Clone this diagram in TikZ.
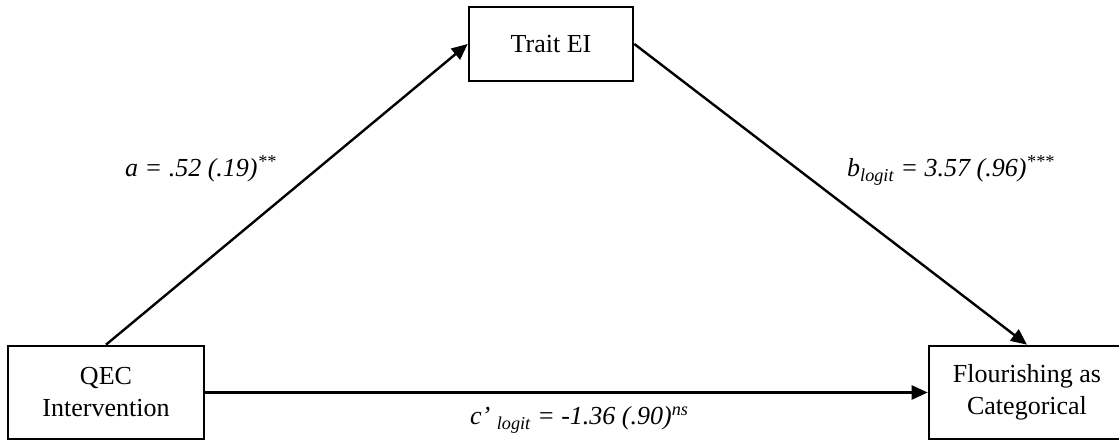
\documentclass[tikz,border=0pt]{standalone}
\usepackage{fontspec}
\setmainfont{Liberation Serif}
\usetikzlibrary{arrows.meta}
\begin{document}
\begin{tikzpicture}[x=1pt,y=1pt,
  box/.style={draw=black,line width=2.6pt,fill=white,align=center,inner sep=0pt,
    font=\fontsize{26}{32}\selectfont},
  conn/.style={line width=2.4pt,-{Triangle[length=16pt,width=14pt]}},
  lab/.style={font=\fontsize{26}{31}\selectfont\itshape,inner sep=0pt,anchor=base west}]
\useasboundingbox (0,0) rectangle (1119,441);
\begin{scope}
\clip (0,0) rectangle (1119,441);
\node[box,minimum width=164pt,minimum height=74pt] (trait) at (551,397) {Trait EI};
\node[box,minimum width=196pt,minimum height=93pt] (qec) at (106,48.5) {QEC\\Intervention};
\node[box,minimum width=196pt,minimum height=93pt] (flour) at (1027,48.5) {Flourishing as\\Categorical};
\end{scope}
\draw[conn] (qec.north) -- (trait.west);
\draw[conn] (trait.east) -- (flour.north);
\draw[conn] (qec.east) -- (flour.west);
\node[lab] (la) at (125,264) {a = .52 (.19)\textsuperscript{**}};
\node[lab] (lb) at (847,264) {b\textsubscript{logit} = 3.57 (.96)\textsuperscript{***}};
\node[lab] (lc) at (470,16) {c’ \textsubscript{logit} = -1.36 (.90)\textsuperscript{ns}};
\end{tikzpicture}
\end{document}
